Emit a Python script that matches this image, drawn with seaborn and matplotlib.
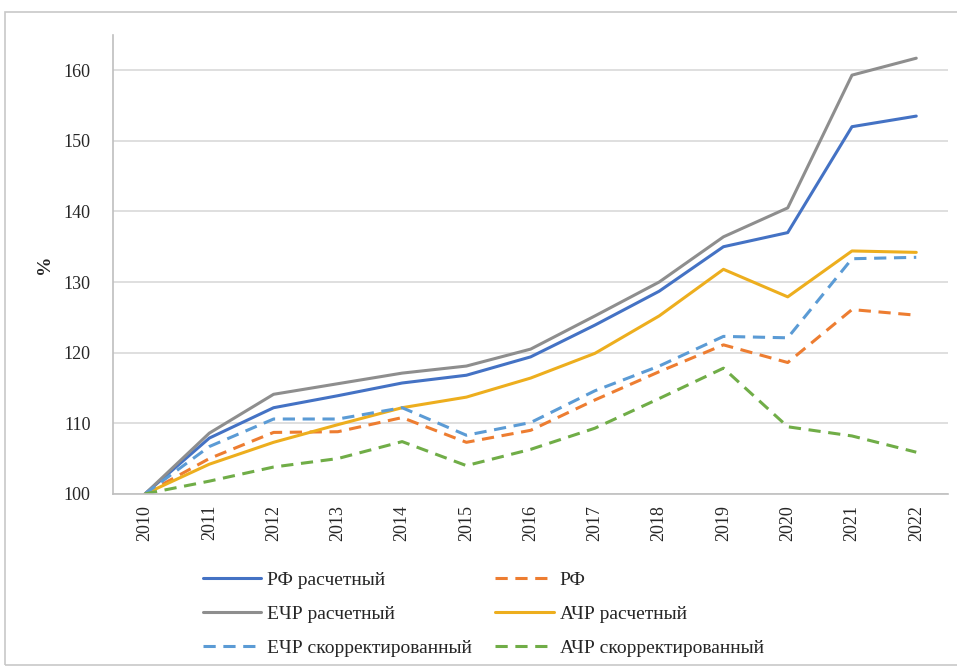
import numpy as np
import pandas as pd
import matplotlib
matplotlib.use("Agg")
import matplotlib.pyplot as plt
from matplotlib.patches import Rectangle
import seaborn as sns

years = list(range(2010, 2023))

rf_calc = [100, 107.9, 112.2, 113.9, 115.7, 116.8, 119.4, 123.9, 128.7, 135.0, 137.0, 152.0, 153.5]
rf = [100, 105.0, 108.7, 108.8, 110.8, 107.3, 109.0, 113.3, 117.3, 121.1, 118.6, 126.1, 125.3]
ecr_calc = [100, 108.6, 114.1, 115.6, 117.1, 118.1, 120.5, 125.2, 130.0, 136.4, 140.5, 159.3, 161.7]
acr_calc = [100, 104.2, 107.3, 109.8, 112.2, 113.7, 116.4, 119.9, 125.2, 131.8, 127.9, 134.4, 134.2]
ecr_corr = [100, 106.7, 110.6, 110.6, 112.2, 108.3, 110.1, 114.6, 118.1, 122.3, 122.1, 133.3, 133.5]
acr_corr = [100, 101.8, 103.8, 105.0, 107.4, 104.0, 106.3, 109.3, 113.5, 117.8, 109.5, 108.2, 105.9]

names = ["РФ расчетный", "РФ", "ЕЧР расчетный", "АЧР расчетный",
         "ЕЧР скорректированный", "АЧР скорректированный"]
series = [rf_calc, rf, ecr_calc, acr_calc, ecr_corr, acr_corr]
colors = ["#4472C4", "#ED7D31", "#8E8E8E", "#EDAE1E", "#5B9BD5", "#70AD47"]
dashed = [False, True, False, False, True, True]

df = pd.DataFrame({
    "year": np.tile(years, len(names)),
    "value": np.concatenate(series),
    "series": np.repeat(names, len(years)),
})

sns.set_style("white")
plt.rcParams["font.family"] = ["Liberation Serif", "DejaVu Serif"]

fig = plt.figure(figsize=(9.57, 6.71), dpi=100)
ax = fig.add_axes([0.118, 0.264, 0.873, 0.684])

palette = dict(zip(names, colors))
dashes = {n: ((4, 2.5) if d else "") for n, d in zip(names, dashed)}
sns.lineplot(data=df, x="year", y="value", hue="series", style="series",
             palette=palette, dashes=dashes, hue_order=names, style_order=names,
             linewidth=2.2, ax=ax, legend=False)

ax.set_xlim(2009.5, 2022.5)
ax.set_ylim(100, 165)
ax.set_yticks(range(100, 161, 10))
ax.yaxis.grid(True, color="#d9d9d9", linewidth=1.2)
ax.set_axisbelow(True)
ax.set_xticks(years)
ax.set_xticklabels([str(y) for y in years], rotation=90)
ax.set_xticks(np.arange(2009.5, 2023, 1), minor=True)
ax.tick_params(axis="x", which="major", length=0, pad=8, labelsize=13)
ax.tick_params(axis="x", which="minor", length=6, color="#bfbfbf", width=1.2, direction="out")
ax.tick_params(axis="y", length=6, color="#bfbfbf", width=1.2, direction="out",
               labelsize=13, pad=10)
ax.set_xlabel("")
ax.set_ylabel("%", fontsize=14, fontweight="bold", labelpad=8)
for s in ["top", "right"]:
    ax.spines[s].set_visible(False)
for s in ["left", "bottom"]:
    ax.spines[s].set_color("#bfbfbf")
    ax.spines[s].set_linewidth(1.2)

order = [0, 2, 4, 1, 3, 5]
handles = [plt.Line2D([], [], color=colors[i], linewidth=2.2,
                      linestyle=(0, (4, 2.5)) if dashed[i] else "-") for i in order]
fig.legend(handles, [names[i] for i in order], ncol=2, loc="center",
           bbox_to_anchor=(0.505, 0.085), frameon=False, fontsize=14,
           handlelength=3.0, handletextpad=0.3, columnspacing=1.2,
           labelspacing=0.85)

fig.patches.append(Rectangle((5 / 957, 6 / 671), 1.0, 1 - 18 / 671,
                             transform=fig.transFigure, fill=False,
                             edgecolor="#c8c8c8", linewidth=1.2))

fig.savefig("out.png", dpi=100)
